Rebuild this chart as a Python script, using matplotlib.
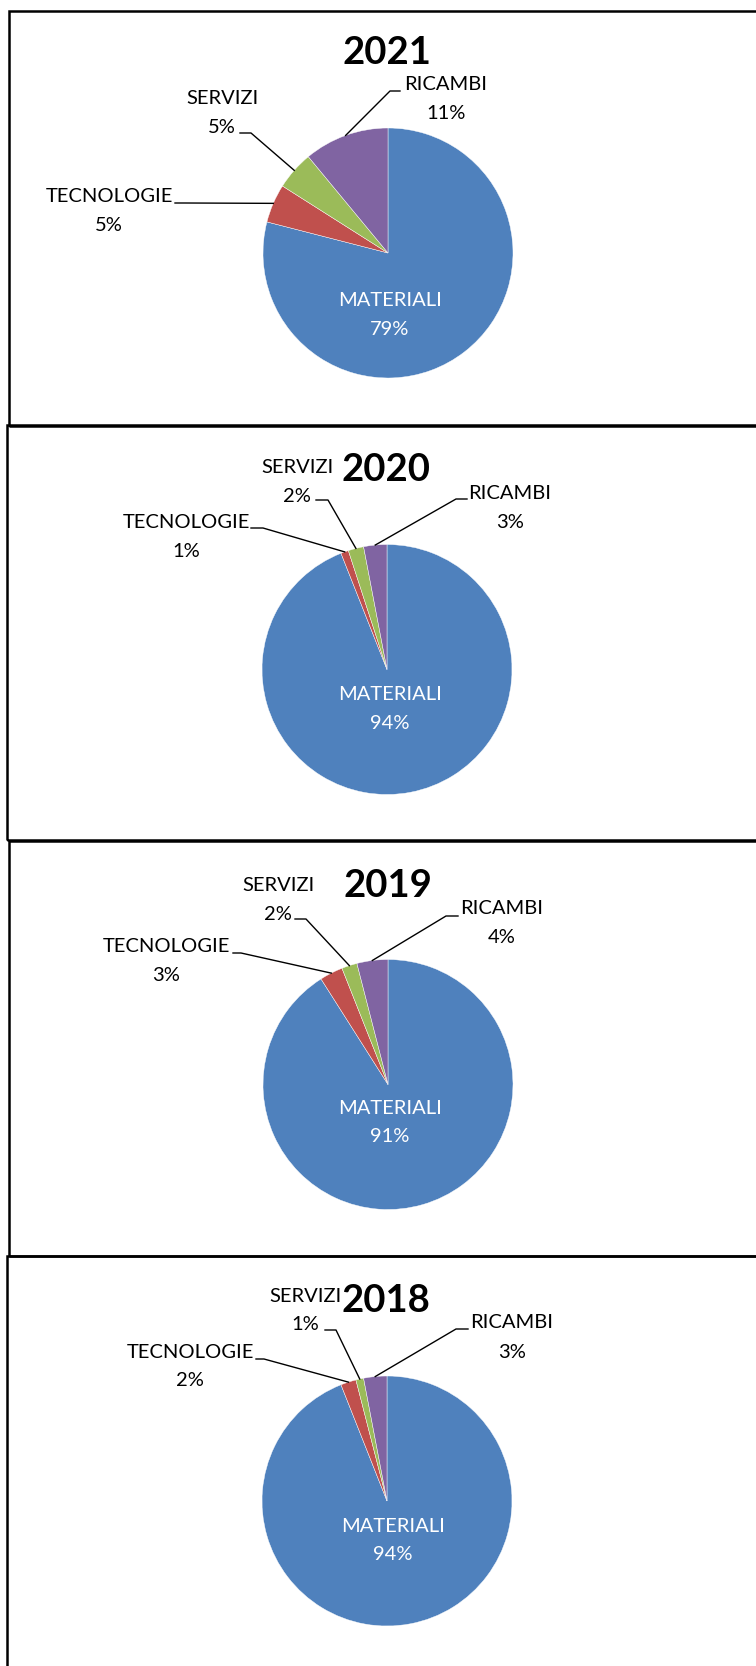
import numpy as np
import matplotlib.pyplot as plt
from matplotlib.patches import Rectangle

W, H = 756, 1666

# data
categories = ["MATERIALI", "TECNOLOGIE", "SERVIZI", "RICAMBI"]
years = ["2021", "2020", "2019", "2018"]
share_2021 = [79, 5, 5, 11]
share_2020 = [94, 1, 2, 3]
share_2019 = [91, 3, 2, 4]
share_2018 = [94, 2, 1, 3]
shares = [share_2021, share_2020, share_2019, share_2018]

colors = ["#4F81BD", "#C0504D", "#9BBB59", "#8064A2"]

# layout in pixels (y measured from top)
R = 125
panels = [
    dict(box=(8.5, 11, 426), center=(388, 253), title=(387, 53),
         labels={"MATERIALI": (390, 300), "TECNOLOGIE": (109, 196),
                 "SERVIZI": (222, 98), "RICAMBI": (446, 84)},
         leaders={"TECNOLOGIE": ((175, 203), 185), "SERVIZI": ((240, 133), 251),
                  "RICAMBI": ((400, 91), 390)}),
    dict(box=(7, 425, 840), center=(387, 669.5), title=(386, 470),
         labels={"MATERIALI": (390, 694), "TECNOLOGIE": (186, 522),
                 "SERVIZI": (297, 467), "RICAMBI": (510, 493)},
         leaders={"TECNOLOGIE": ((251, 528), 263), "SERVIZI": ((316, 500), 328),
                  "RICAMBI": ((467, 499), 456)}),
    dict(box=(8.5, 841, 1256), center=(388, 1084.5), title=(388, 886),
         labels={"MATERIALI": (390, 1108), "TECNOLOGIE": (166, 946),
                 "SERVIZI": (278, 885), "RICAMBI": (502, 908)},
         leaders={"TECNOLOGIE": ((233, 953), 241), "SERVIZI": ((295, 919), 306),
                  "RICAMBI": ((458, 916), 446)}),
    dict(box=(7, 1256, 1720), center=(387, 1501), title=(386, 1301),
         labels={"MATERIALI": (393, 1526), "TECNOLOGIE": (190, 1352),
                 "SERVIZI": (305, 1296), "RICAMBI": (512, 1323)},
         leaders={"TECNOLOGIE": ((256, 1359), 264), "SERVIZI": ((325, 1330), 336),
                  "RICAMBI": ((468, 1329), 456)}),
]

LINE_GAP = 29


def fy(y):
    return H - y


fig = plt.figure(figsize=(W / 100, H / 100), dpi=100)
ax = fig.add_axes([0, 0, 1, 1])

for vals, year, p in zip(shares, years, panels):
    left, top, bottom = p["box"]
    ax.add_patch(Rectangle((left, fy(bottom)), 900, bottom - top, fill=False,
                           edgecolor="black", linewidth=1.8, zorder=1))

    cx, cy = p["center"]
    ax.pie(vals, colors=colors, startangle=90, counterclock=False,
           center=(cx, fy(cy)), radius=R, frame=True,
           wedgeprops=dict(edgecolor="white", linewidth=0.3))

    tx, ty = p["title"]
    ax.text(tx, fy(ty), year, ha="center", va="center", fontsize=27.5,
            fontweight="bold", family="Lato", color="black")

    total = float(sum(vals))
    cum = np.cumsum([0] + list(vals))
    for i, cat in enumerate(categories):
        lx, ly = p["labels"][cat]
        col = "white" if cat == "MATERIALI" else "black"
        ax.text(lx, fy(ly), cat, ha="center", va="center", fontsize=14.5,
                family="Lato", color=col)
        ax.text(lx, fy(ly + LINE_GAP), "%d%%" % vals[i], ha="center",
                va="center", fontsize=14.5, family="Lato", color=col)
        if cat in p["leaders"]:
            (sx, sy), ex = p["leaders"][cat]
            mid = (cum[i] + cum[i + 1]) / 2.0 / total
            ang = np.deg2rad(90 - 360 * mid)
            px = cx + R * np.cos(ang)
            py = fy(cy) + R * np.sin(ang)
            ax.plot([sx, ex, px], [fy(sy), fy(sy), py], color="black",
                    linewidth=1.0, zorder=3)

ax.set_xlim(0, W)
ax.set_ylim(0, H)
ax.set_aspect("auto")
ax.axis("off")

fig.savefig("out.png", dpi=100, facecolor="white")
